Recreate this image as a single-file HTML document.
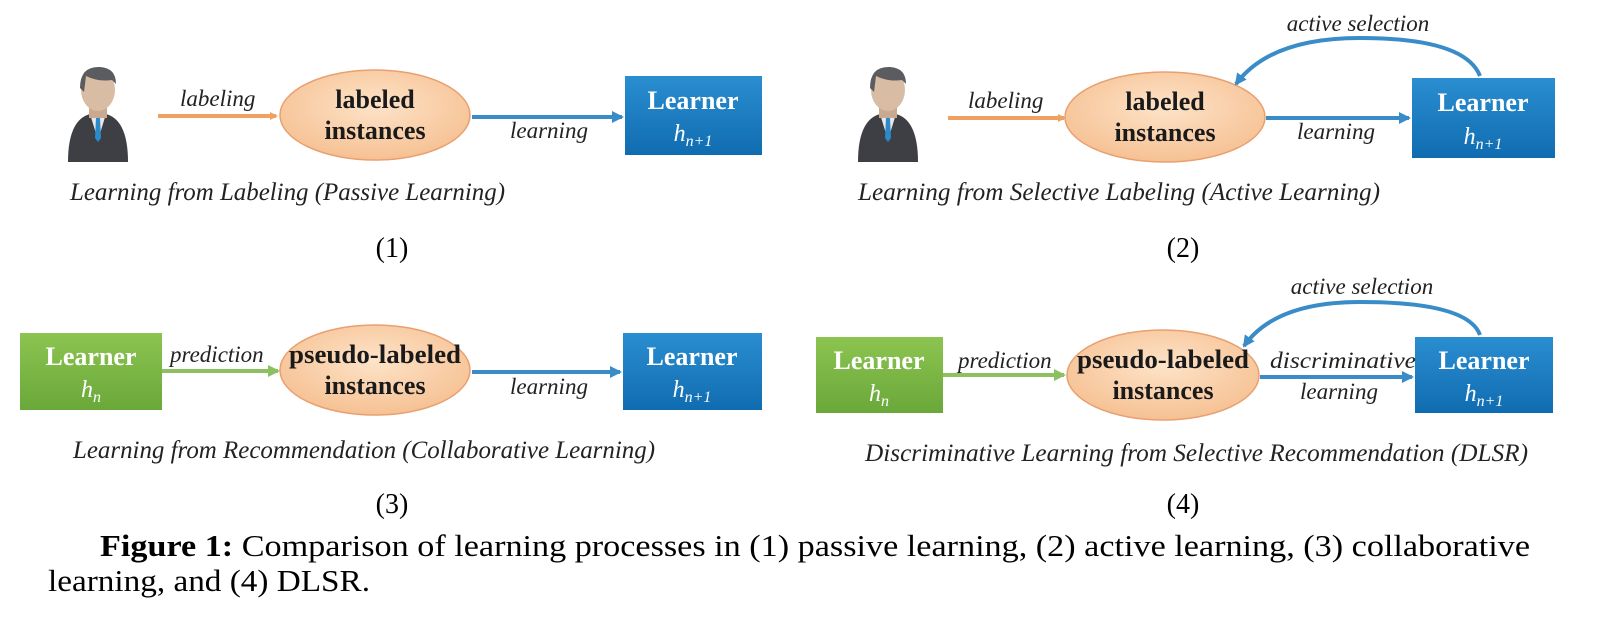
<!DOCTYPE html>
<html><head><meta charset="utf-8"><style>
html,body{margin:0;padding:0;background:#fff}
svg{display:block}
text{font-family:"Liberation Serif",serif}
.it{font-style:italic;fill:#222}
.bx{font-weight:bold;fill:#fff}
.el{font-weight:bold;fill:#1a1a1a}
</style></head><body>
<svg width="1598" height="621" viewBox="0 0 1598 621" xmlns="http://www.w3.org/2000/svg">
<defs>
<marker id="ao" markerWidth="8" markerHeight="8" refX="6" refY="4" orient="auto" markerUnits="userSpaceOnUse"><path d="M0,0 L8,4 L0,8z" fill="#f0a060"/></marker>
<marker id="ab" markerWidth="12" markerHeight="12" refX="10" refY="6" orient="auto" markerUnits="userSpaceOnUse"><path d="M0,0 L12,6 L0,12z" fill="#3a8cc8"/></marker>
<marker id="ag" markerWidth="12" markerHeight="12" refX="10" refY="6" orient="auto" markerUnits="userSpaceOnUse"><path d="M0,0 L12,6 L0,12z" fill="#8cc060"/></marker>
<radialGradient id="eg" cx="50%" cy="40%" r="60%"><stop offset="0" stop-color="#fde3c8"/><stop offset="1" stop-color="#f6c193"/></radialGradient>
<linearGradient id="bg" x1="0" y1="0" x2="0" y2="1"><stop offset="0" stop-color="#2a8ed0"/><stop offset="1" stop-color="#106cb0"/></linearGradient>
<linearGradient id="gg" x1="0" y1="0" x2="0" y2="1"><stop offset="0" stop-color="#8cc450"/><stop offset="1" stop-color="#6aa83a"/></linearGradient>
<g id="person">
<path d="M-30,92 Q-30,50 -8,44 L8,44 Q30,50 30,92z" fill="#3d3f44"/>
<path d="M-8,44 L0,70 L8,44z" fill="#e8e8e8"/>
<path d="M-2,48 L2,48 L3,68 L0,72 L-3,68z" fill="#2a8acb"/>
<rect x="-9" y="34" width="18" height="14" fill="#c9a98f"/>
<ellipse cx="0" cy="20" rx="17" ry="21" fill="#d8bca4"/>
<path d="M-18,18 Q-18,-4 2,-3 Q18,-2 18,14 L14,10 Q0,12 -12,6 L-14,22z" fill="#5a5c60"/>
</g>
</defs>

<!-- Panel 1 -->
<use href="#person" x="98" y="70"/>
<line x1="158" y1="116" x2="276" y2="116" stroke="#f0a060" stroke-width="4" marker-end="url(#ao)"/>
<text x="180" y="106" class="it" font-size="23">labeling</text>
<ellipse cx="375" cy="115" rx="95" ry="45" fill="url(#eg)" stroke="#e8a070" stroke-width="1.5"/>
<text x="375" y="108" class="el" font-size="26" text-anchor="middle">labeled</text>
<text x="375" y="139" class="el" font-size="26" text-anchor="middle">instances</text>
<line x1="472" y1="117" x2="622" y2="117" stroke="#3a8cc8" stroke-width="4" marker-end="url(#ab)"/>
<text x="510" y="138" class="it" font-size="23">learning</text>
<rect x="625" y="76" width="137" height="79" fill="url(#bg)"/>
<text x="693" y="109" class="bx" font-size="26" text-anchor="middle">Learner</text>
<text x="693" y="141" class="it" font-size="24" style="fill:#fff" text-anchor="middle">h<tspan font-size="16" dy="5">n+1</tspan></text>
<text x="70" y="200" class="it" font-size="25" textLength="435" lengthAdjust="spacingAndGlyphs">Learning from Labeling (Passive Learning)</text>
<text x="392" y="257" font-size="28" text-anchor="middle">(1)</text>

<!-- Panel 2 -->
<use href="#person" x="888" y="70"/>
<line x1="948" y1="118" x2="1064" y2="118" stroke="#f0a060" stroke-width="4" marker-end="url(#ao)"/>
<text x="968" y="108" class="it" font-size="23">labeling</text>
<ellipse cx="1165" cy="117" rx="100" ry="45" fill="url(#eg)" stroke="#e8a070" stroke-width="1.5"/>
<text x="1165" y="110" class="el" font-size="26" text-anchor="middle">labeled</text>
<text x="1165" y="141" class="el" font-size="26" text-anchor="middle">instances</text>
<line x1="1266" y1="118" x2="1409" y2="118" stroke="#3a8cc8" stroke-width="4" marker-end="url(#ab)"/>
<text x="1297" y="139" class="it" font-size="23">learning</text>
<rect x="1412" y="78" width="143" height="80" fill="url(#bg)"/>
<text x="1483" y="111" class="bx" font-size="26" text-anchor="middle">Learner</text>
<text x="1483" y="144" class="it" font-size="24" style="fill:#fff" text-anchor="middle">h<tspan font-size="16" dy="5">n+1</tspan></text>
<path d="M1480,76 Q1465,38 1360,38 Q1270,38 1236,84" fill="none" stroke="#3a8cc8" stroke-width="4" marker-end="url(#ab)"/>
<text x="1358" y="31" class="it" font-size="23" text-anchor="middle">active selection</text>
<text x="858" y="200" class="it" font-size="25" textLength="522" lengthAdjust="spacingAndGlyphs">Learning from Selective Labeling (Active Learning)</text>
<text x="1183" y="257" font-size="28" text-anchor="middle">(2)</text>

<!-- Panel 3 -->
<rect x="20" y="333" width="142" height="77" fill="url(#gg)"/>
<text x="91" y="365" class="bx" font-size="26" text-anchor="middle">Learner</text>
<text x="91" y="397" class="it" font-size="24" style="fill:#fff" text-anchor="middle">h<tspan font-size="16" dy="5">n</tspan></text>
<line x1="162" y1="371" x2="278" y2="371" stroke="#8cc060" stroke-width="4" marker-end="url(#ag)"/>
<text x="170" y="362" class="it" font-size="23">prediction</text>
<ellipse cx="375" cy="370" rx="95" ry="45" fill="url(#eg)" stroke="#e8a070" stroke-width="1.5"/>
<text x="375" y="363" class="el" font-size="26" text-anchor="middle" textLength="172" lengthAdjust="spacingAndGlyphs">pseudo-labeled</text>
<text x="375" y="394" class="el" font-size="26" text-anchor="middle">instances</text>
<line x1="472" y1="372" x2="620" y2="372" stroke="#3a8cc8" stroke-width="4" marker-end="url(#ab)"/>
<text x="510" y="394" class="it" font-size="23">learning</text>
<rect x="623" y="333" width="139" height="77" fill="url(#bg)"/>
<text x="692" y="365" class="bx" font-size="26" text-anchor="middle">Learner</text>
<text x="692" y="397" class="it" font-size="24" style="fill:#fff" text-anchor="middle">h<tspan font-size="16" dy="5">n+1</tspan></text>
<text x="73" y="458" class="it" font-size="25" textLength="582" lengthAdjust="spacingAndGlyphs">Learning from Recommendation (Collaborative Learning)</text>
<text x="392" y="513" font-size="28" text-anchor="middle">(3)</text>

<!-- Panel 4 -->
<rect x="816" y="337" width="127" height="76" fill="url(#gg)"/>
<text x="879" y="369" class="bx" font-size="26" text-anchor="middle">Learner</text>
<text x="879" y="401" class="it" font-size="24" style="fill:#fff" text-anchor="middle">h<tspan font-size="16" dy="5">n</tspan></text>
<line x1="943" y1="375" x2="1064" y2="375" stroke="#8cc060" stroke-width="4" marker-end="url(#ag)"/>
<text x="958" y="368" class="it" font-size="23">prediction</text>
<ellipse cx="1163" cy="375" rx="96" ry="45" fill="url(#eg)" stroke="#e8a070" stroke-width="1.5"/>
<text x="1163" y="368" class="el" font-size="26" text-anchor="middle" textLength="172" lengthAdjust="spacingAndGlyphs">pseudo-labeled</text>
<text x="1163" y="399" class="el" font-size="26" text-anchor="middle">instances</text>
<line x1="1260" y1="377" x2="1412" y2="377" stroke="#3a8cc8" stroke-width="4" marker-end="url(#ab)"/>
<text x="1270" y="368" class="it" font-size="23" textLength="146" lengthAdjust="spacingAndGlyphs">discriminative</text>
<text x="1300" y="399" class="it" font-size="23">learning</text>
<rect x="1415" y="337" width="138" height="76" fill="url(#bg)"/>
<text x="1484" y="369" class="bx" font-size="26" text-anchor="middle">Learner</text>
<text x="1484" y="401" class="it" font-size="24" style="fill:#fff" text-anchor="middle">h<tspan font-size="16" dy="5">n+1</tspan></text>
<path d="M1480,335 Q1468,302 1360,302 Q1275,302 1244,346" fill="none" stroke="#3a8cc8" stroke-width="4" marker-end="url(#ab)"/>
<text x="1362" y="294" class="it" font-size="23" text-anchor="middle">active selection</text>
<text x="865" y="461" class="it" font-size="25" textLength="663" lengthAdjust="spacingAndGlyphs">Discriminative Learning from Selective Recommendation (DLSR)</text>
<text x="1183" y="513" font-size="28" text-anchor="middle">(4)</text>

<!-- Caption -->
<text x="100" y="556" font-size="31" textLength="1430" lengthAdjust="spacingAndGlyphs"><tspan font-weight="bold">Figure 1:</tspan> Comparison of learning processes in (1) passive learning, (2) active learning, (3) collaborative</text>
<text x="48" y="591" font-size="31" textLength="322" lengthAdjust="spacingAndGlyphs">learning, and (4) DLSR.</text>
</svg>
</body></html>
